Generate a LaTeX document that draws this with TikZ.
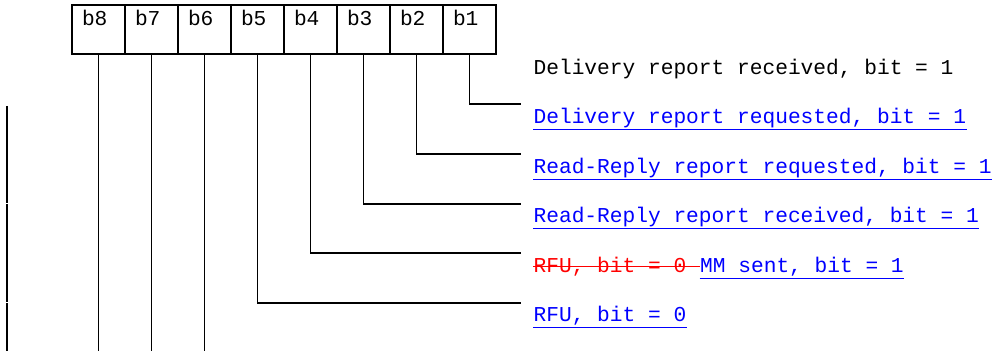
\documentclass[tikz,border=0pt]{standalone}
\usepackage{fontspec}
\setmainfont{Liberation Mono}
\usetikzlibrary{positioning}

\tikzset{
  bitbox/.style={draw, anchor=north west, outer sep=0pt, inner xsep=5pt, inner ysep=3pt,
    text width=16.5pt, align=left, text height=7.5pt, text depth=11pt},
  flag/.style={anchor=base west, inner sep=0pt},
  link/.style={text=blue},
  uline/.style={blue, line width=0.5pt},
}

\begin{document}
\begin{tikzpicture}[x=0.5pt, y=-0.5pt, line width=0.6pt, font=\fontsize{10.6pt}{12pt}\selectfont]
  \useasboundingbox (0,0) rectangle (996,351);
  % octet
  \foreach \i in {1,...,8}
    \node[bitbox] (b\i) at ({72+53*(8-\i)},5) {b\i};
  % line ends
  \foreach \i/\y in {1/104,2/154,3/204,4/253,5/303}
    \coordinate (e\i) at (521,\y);
  \coordinate (bottom) at (0,351);
  % flag texts
  \node[flag] (l1) at (533,75) {Delivery report received, bit = 1};
  \node[flag, link] (l2) at (533,124) {Delivery report requested, bit = 1};
  \node[flag, link] (l3) at (533,174) {Read-Reply report requested, bit = 1};
  \node[flag, link] (l4) at (533,223) {Read-Reply report received, bit = 1};
  \node[flag, text=red] (r5) at (533,273) {RFU, bit = 0};
  \node[flag, link, base right=6.36pt of r5] (l5) {MM sent, bit = 1};
  \node[flag, link] (l6) at (533,322) {RFU, bit = 0};
  % underlines and strike
  \foreach \n in {l2,l3,l4,l5,l6}
    \draw[uline] ([yshift=-2.6pt]\n.base west) -- ([yshift=-2.6pt]\n.base east);
  \draw[red, line width=0.5pt] ([yshift=3pt]r5.base west) -- ([yshift=3pt]l5.base west);
  % connectors
  \foreach \i in {1,...,5}
    \draw (b\i.south) |- (e\i);
  \foreach \i in {6,7,8}
    \draw (b\i.south) -- (b\i.south |- bottom);
  % left edge
  \draw (7,106) -- (7,203.5);
  \draw (7,204.5) -- (7,302.5);
  \draw (7,303.5) -- (7,351);
\end{tikzpicture}
\end{document}
